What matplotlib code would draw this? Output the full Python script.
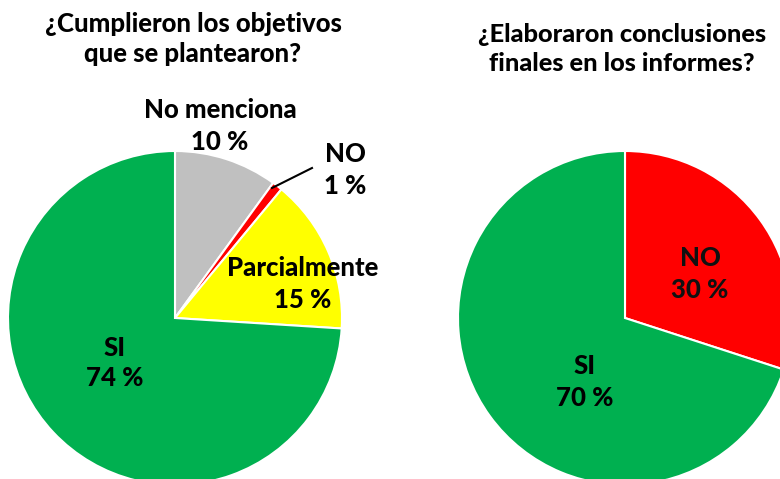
import matplotlib
matplotlib.use("Agg")
import matplotlib.pyplot as plt

plt.rcParams['font.family'] = ['Lato', 'DejaVu Sans']

# Datos
titulo1 = "¿Cumplieron los objetivos\nque se plantearon?"
etiquetas1 = ['No menciona', 'NO', 'Parcialmente', 'SI']
valores1 = [10, 1, 15, 74]
colores1 = ['#C0C0C0', '#FF0000', '#FFFF00', '#00B050']

titulo2 = "¿Elaboraron conclusiones\nfinales en los informes?"
etiquetas2 = ['NO', 'SI']
valores2 = [30, 70]
colores2 = ['#FF0000', '#00B050']

W, H = 780, 479
fig = plt.figure(figsize=(W / 100, H / 100), dpi=100)

R = 167  # radio en pixeles


def pie_axes(cx, cy):
    # cx, cy en pixeles desde arriba a la izquierda
    return fig.add_axes([(cx - R) / W, (H - cy - R) / H, 2 * R / W, 2 * R / H])


def text_px(x, y, s, size=18.5, **kw):
    fig.text(x / W, 1 - y / H, s, ha='center', va='center', fontsize=size,
             fontweight='black', linespacing=1.35, **kw)


# Grafico 1
ax1 = pie_axes(175, 318)
ax1.pie(valores1, colors=colores1, startangle=90, counterclock=False,
        radius=1, wedgeprops=dict(edgecolor='white', linewidth=1.5))
ax1.set_xlim(-1, 1)
ax1.set_ylim(-1, 1)
ax1.set_aspect('equal')
ax1.axis('off')

text_px(193, 39, titulo1, size=18.5)
text_px(220, 126, f"{etiquetas1[0]}\n{valores1[0]} %")
text_px(345, 170, f"{etiquetas1[1]}\n{valores1[1]} %")
text_px(303, 284, f"{etiquetas1[2]}\n{valores1[2]} %")
text_px(115, 363, f"{etiquetas1[3]}\n{valores1[3]} %")
fig.add_artist(plt.Line2D([272 / W, 312 / W], [1 - 188 / H, 1 - 168 / H],
                          color='black', linewidth=1.5))

# Grafico 2
ax2 = pie_axes(625, 318)
ax2.pie(valores2, colors=colores2, startangle=90, counterclock=False,
        radius=1, wedgeprops=dict(edgecolor='white', linewidth=1.5))
ax2.set_xlim(-1, 1)
ax2.set_ylim(-1, 1)
ax2.set_aspect('equal')
ax2.axis('off')

text_px(622, 49, titulo2, size=18.3)
text_px(700, 274, f"{etiquetas2[0]}\n{valores2[0]} %", color='#111111')
text_px(585, 382, f"{etiquetas2[1]}\n{valores2[1]} %")

fig.savefig('out.png', dpi=100)
